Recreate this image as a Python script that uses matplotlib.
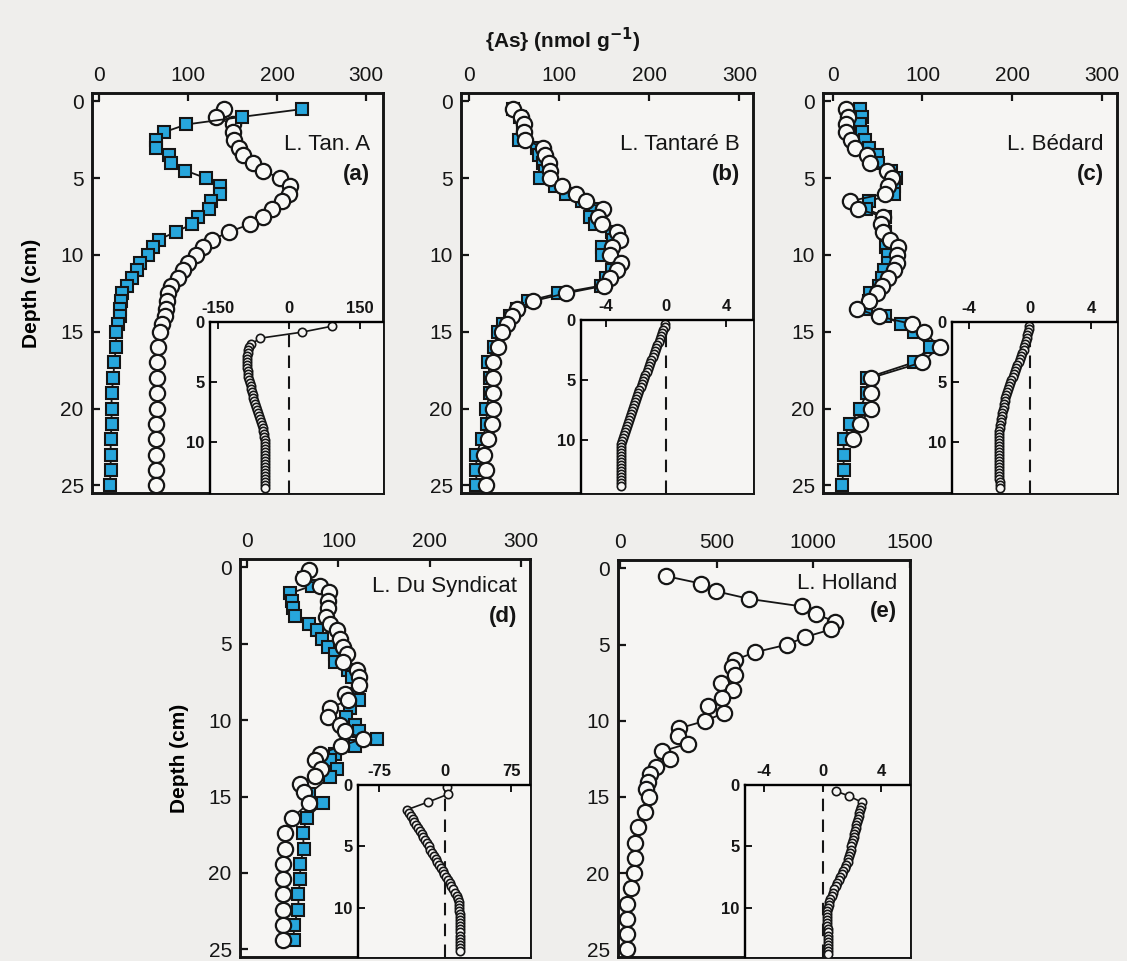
import matplotlib.pyplot as plt

plt.rcParams['font.family'] = ['Liberation Sans', 'DejaVu Sans']

# ---- porewater / solid-phase As profiles, depth in cm ----
# (a) L. Tantare A
depth_a_sq = [0.5, 1.0, 1.5, 2.0, 2.5, 3.0, 3.5, 4.0, 4.5, 5.0, 5.5, 6.0, 6.5, 7.0,
              7.5, 8.0, 8.5, 9.0, 9.5, 10.0, 10.5, 11.0, 11.5, 12.0, 12.5, 13.0,
              13.5, 14.0, 14.5, 15.0, 16.0, 17.0, 18.0, 19.0, 20.0, 21.0, 22.0,
              23.0, 24.0, 25.0]
as_a_sq = [228, 161, 98, 73, 64, 64, 79, 81, 97, 120, 136, 136, 126, 124, 111, 104,
           86, 67, 61, 55, 46, 43, 37, 31, 26, 25, 23, 23, 21, 19, 19, 17, 16, 14,
           14, 14, 13, 13, 13, 12]
depth_a_ci = [0.5, 1.0, 1.5, 2.0, 2.5, 3.0, 3.5, 4.0, 4.5, 5.0, 5.5, 6.0, 6.5, 7.0,
              7.5, 8.0, 8.5, 9.0, 9.5, 10.0, 10.5, 11.0, 11.5, 12.0, 12.5, 13.0,
              13.5, 14.0, 14.5, 15.0, 16.0, 17.0, 18.0, 19.0, 20.0, 21.0, 22.0,
              23.0, 24.0, 25.0]
as_a_ci = [140, 131, 150, 151, 152, 157, 162, 173, 184, 203, 215, 213, 205, 194,
           184, 169, 146, 127, 117, 109, 100, 94, 89, 81, 77, 76, 75, 74, 71, 68,
           66, 65, 65, 65, 65, 64, 64, 64, 64, 64]

# (b) L. Tantare B
depth_b = [0.5, 1.0, 1.5, 2.0, 2.5, 3.0, 3.5, 4.0, 4.5, 5.0, 5.5, 6.0, 6.5, 7.0,
           7.5, 8.0, 8.5, 9.0, 9.5, 10.0, 10.5, 11.0, 11.5, 12.0, 12.5, 13.0, 13.5,
           14.0, 14.5, 15.0, 16.0, 17.0, 18.0, 19.0, 20.0, 21.0, 22.0, 23.0, 24.0,
           25.0]
as_b_sq = [49, 57, 60, 60, 55, 75, 78, 82, 84, 79, 95, 108, 125, 140, 134, 140, 158,
           160, 147, 147, 160, 158, 152, 146, 99, 65, 53, 45, 38, 32, 28, 21, 23, 23,
           19, 20, 14, 8, 8, 8]
as_b_ci = [49, 58, 61, 61, 62, 82, 84, 89, 90, 90, 103, 119, 130, 149, 143, 147, 164,
           167, 158, 156, 169, 164, 156, 150, 107, 71, 53, 48, 42, 36, 32, 27, 27, 27,
           26, 25, 21, 17, 19, 19]

# (c) L. Bedard
depth_c_sq = [0.5, 1.0, 1.5, 2.0, 2.5, 3.0, 3.5, 4.0, 4.5, 5.0, 5.5, 6.0, 6.5, 7.0,
              7.5, 8.0, 8.5, 9.0, 9.5, 10.0, 10.5, 11.0, 11.5, 12.0, 12.5, 13.0,
              13.5, 14.0, 14.5, 15.0, 16.0, 17.0, 18.0, 19.0, 20.0, 21.0, 22.0,
              23.0, 24.0, 25.0]
as_c_sq = [30, 33, 30, 33, 36, 40, 49, 50, 65, 70, 68, 68, 40, 37, 58, 56, 58, 60, 59,
           61, 62, 57, 55, 52, 41, 40, 37, 58, 76, 90, 108, 90, 38, 38, 30, 19, 12, 12,
           12, 10]
depth_c_ci = [0.5, 1.0, 1.5, 2.0, 2.5, 3.0, 3.5, 4.0, 4.5, 5.0, 5.5, 6.0, 6.5, 7.0,
              7.5, 8.0, 8.5, 9.0, 9.5, 10.0, 10.5, 11.0, 11.5, 12.0, 12.5, 13.0,
              13.5, 14.0, 14.5, 15.0, 16.0, 17.0, 18.0, 19.0, 20.0, 21.0, 22.0]
as_c_ci = [15, 17, 15, 15, 20, 25, 38, 41, 60, 66, 62, 58, 19, 28, 56, 54, 56, 64, 73,
           71, 71, 68, 62, 55, 49, 40, 27, 52, 88, 102, 119, 99, 43, 43, 42, 30, 23]

# (d) L. Du Syndicat
depth_d_sq = [0.7, 1.2, 1.7, 2.2, 2.65, 3.2, 3.7, 4.1, 4.7, 5.2, 5.7, 6.2, 6.7, 7.2,
              7.7, 8.3, 8.7, 9.2, 9.8, 10.3, 10.7, 11.2, 11.7, 12.2, 12.6, 13.2,
              13.7, 14.8, 15.4, 16.4, 17.4, 18.4, 19.4, 20.4, 21.4, 22.4, 23.4, 24.4]
as_d_sq = [62, 71, 47, 49, 50, 52, 68, 76, 82, 88, 96, 96, 110, 115, 124, 120, 122,
           113, 108, 118, 122, 142, 118, 96, 91, 98, 91, 68, 83, 65, 61, 62, 58, 58,
           56, 56, 51, 51]
depth_d_ci = [0.2, 0.7, 1.2, 1.6, 2.2, 2.65, 3.25, 3.7, 4.1, 4.7, 5.2, 5.65, 6.2,
              6.7, 7.2, 7.7, 8.3, 8.7, 9.2, 9.8, 10.3, 10.7, 11.2, 11.7, 12.2, 12.6,
              13.2, 13.65, 14.2, 14.7, 15.4, 16.4, 17.4, 18.4, 19.4, 20.4, 21.4, 22.4,
              23.4, 24.4]
as_d_ci = [68, 61, 80, 90, 89, 89, 86, 91, 98, 102, 105, 109, 105, 120, 122, 123, 107,
           110, 91, 89, 102, 107, 127, 103, 80, 74, 81, 74, 58, 62, 68, 49, 41, 41, 39,
           39, 39, 39, 39, 39]

# (e) L. Holland
depth_e = [0.5, 1.0, 1.5, 2.0, 2.5, 3.0, 3.5, 4.0, 4.5, 5.0, 5.5, 6.0, 6.5, 7.0, 7.5,
           8.0, 8.5, 9.0, 9.5, 10.0, 10.5, 11.0, 11.5, 12.0, 12.5, 13.0, 13.5, 14.0,
           14.5, 15.0, 16.0, 17.0, 18.0, 19.0, 20.0, 21.0, 22.0, 23.0, 24.0, 25.0]
as_e = [236, 420, 497, 668, 942, 1014, 1113, 1093, 959, 865, 699, 596, 579, 593, 523,
        586, 526, 454, 536, 442, 305, 300, 351, 219, 257, 188, 158, 146, 134, 151, 128,
        94, 77, 77, 72, 55, 38, 38, 38, 34]

# ---- inset profiles (net rates, fine depth grid) ----
depth_in_a = [0.35, 0.85, 1.35, 1.85, 2.1, 2.35, 2.6, 2.85, 3.1, 3.35, 3.6, 3.85, 4.1,
              4.35, 4.6, 4.85, 5.1, 5.35, 5.6, 5.85, 6.1, 6.35, 6.6, 6.85, 7.1, 7.35,
              7.6, 7.85, 8.1, 8.35, 8.6, 8.85, 9.1, 9.35, 9.6, 9.85, 10.1, 10.35, 10.6,
              10.85, 11.1, 11.35, 11.6, 11.85, 12.1, 12.35, 12.6, 12.85, 13.1, 13.35,
              13.6, 13.85]
rate_in_a = [91, 27, -61, -80, -84, -86, -87, -88, -88, -88, -88, -88, -87, -87, -86,
             -85, -83, -81, -80, -78, -76, -75, -73, -71, -69, -67, -65, -63, -61, -59,
             -57, -55, -54, -53, -52, -51, -50, -50, -50, -50, -50, -50, -50, -50, -50,
             -50, -50, -50, -50, -50, -50, -50]
depth_in_b = [0.3, 0.55, 0.8, 1.05, 1.3, 1.55, 1.8, 2.05, 2.3, 2.55, 2.8, 3.05, 3.3,
              3.55, 3.8, 4.05, 4.3, 4.55, 4.8, 5.05, 5.3, 5.55, 5.8, 6.05, 6.3, 6.55,
              6.8, 7.05, 7.3, 7.55, 7.8, 8.05, 8.3, 8.55, 8.8, 9.05, 9.3, 9.55, 9.8,
              10.05, 10.3, 10.55, 10.8, 11.05, 11.3, 11.55, 11.8, 12.05, 12.3, 12.55,
              12.8, 13.05, 13.3, 13.55, 13.8]
rate_in_b = [-0.05, -0.1, -0.18, -0.26, -0.34, -0.42, -0.5, -0.58, -0.66, -0.74,
             -0.82, -0.9, -0.98, -1.06, -1.14, -1.22, -1.3, -1.38, -1.46, -1.54, -1.62,
             -1.7, -1.78, -1.85, -1.92, -1.99, -2.06, -2.13, -2.2, -2.27, -2.34, -2.41,
             -2.48, -2.55, -2.62, -2.69, -2.76, -2.83, -2.9, -2.95, -2.98, -3.0, -3.0,
             -3.0, -3.0, -3.0, -3.0, -3.0, -3.0, -3.0, -3.0, -3.0, -3.0, -3.0, -3.0]
depth_in_c = depth_in_b
rate_in_c = [-0.05, -0.08, -0.12, -0.16, -0.2, -0.25, -0.3, -0.36, -0.42, -0.5, -0.58,
             -0.66, -0.74, -0.82, -0.9, -0.98, -1.06, -1.14, -1.22, -1.3, -1.36, -1.42,
             -1.48, -1.54, -1.6, -1.64, -1.68, -1.72, -1.76, -1.8, -1.84, -1.88, -1.92,
             -1.95, -1.98, -2.0, -2.02, -2.04, -2.05, -2.05, -2.05, -2.05, -2.05, -2.05,
             -2.05, -2.05, -2.05, -2.05, -2.0, -2.0, -2.0, -2.0, -1.95, -1.95, -1.95]
depth_in_d = [0.2, 0.75, 1.4, 2.0, 2.25, 2.5, 2.75, 3.0, 3.25, 3.5, 3.75, 4.0, 4.25,
              4.5, 4.75, 5.0, 5.25, 5.5, 5.75, 6.0, 6.25, 6.5, 6.75, 7.0, 7.25, 7.5,
              7.75, 8.0, 8.25, 8.5, 8.75, 9.0, 9.25, 9.5, 9.75, 10.0, 10.25, 10.5,
              10.75, 11.0, 11.25, 11.5, 11.75, 12.0, 12.25, 12.5, 12.75, 13.0, 13.25,
              13.5]
rate_in_d = [2, 3, -20, -43, -41, -39, -37, -35, -33, -31, -29, -27, -25, -23, -21, -19,
             -17, -15, -13, -11, -9, -7, -5, -3, -1, 1, 3, 5, 7, 9, 11, 13, 14, 15, 16,
             16, 16, 17, 17, 17, 17, 17, 17, 17, 17, 17, 17, 17, 17, 17]
depth_in_e = [0.5, 0.9, 1.4, 1.75, 2.0, 2.25, 2.5, 2.75, 3.0, 3.25, 3.5, 3.75, 4.0,
              4.25, 4.5, 4.75, 5.0, 5.25, 5.5, 5.75, 6.0, 6.25, 6.5, 6.75, 7.0, 7.25,
              7.5, 7.75, 8.0, 8.25, 8.5, 8.75, 9.0, 9.25, 9.5, 9.75, 10.0, 10.25, 10.5,
              10.75, 11.0, 11.25, 11.5, 11.75, 12.0, 12.25, 12.5, 12.75, 13.0, 13.25,
              13.5, 13.75]
rate_in_e = [0.9, 1.8, 2.65, 2.6, 2.55, 2.5, 2.45, 2.4, 2.35, 2.3, 2.25, 2.2, 2.15,
             2.1, 2.05, 2.0, 1.95, 1.9, 1.85, 1.8, 1.75, 1.7, 1.6, 1.5, 1.4, 1.3, 1.2,
             1.1, 1.0, 0.9, 0.8, 0.7, 0.6, 0.5, 0.45, 0.4, 0.35, 0.3, 0.3, 0.3, 0.3,
             0.3, 0.3, 0.35, 0.35, 0.35, 0.35, 0.35, 0.35, 0.35, 0.35, 0.35]

W, H = 1127, 961
BLUE = '#27a6dc'
PAPER = '#efeeec'
FACE = '#f6f5f3'
INK = '#151515'


def box(x0, y0, x1, y1):
    # pixel box -> figure fraction [left, bottom, width, height]
    return [x0 / W, 1 - y1 / H, (x1 - x0) / W, (y1 - y0) / H]


def main_panel(rect, xlim, xticks, name, tag, name_y, tag_y):
    ax = fig.add_axes(box(*rect))
    ax.set_facecolor(FACE)
    ax.set_xlim(*xlim)
    ax.set_ylim(25.5, -0.55)
    ax.set_xticks(xticks)
    ax.set_yticks([0, 5, 10, 15, 20, 25])
    ax.xaxis.tick_top()
    ax.tick_params(direction='in', length=6, width=1.6, labelsize=15, pad=6,
                   top=True, bottom=False, left=True, right=False, colors=INK)
    for s in ax.spines.values():
        s.set_linewidth(2.1)
        s.set_color(INK)
    ax.text(0.955, name_y, name, transform=ax.transAxes, ha='right', va='center',
            fontsize=16, color=INK)
    ax.text(0.955, tag_y, tag, transform=ax.transAxes, ha='right', va='center',
            fontsize=16, fontweight='bold', color=INK)
    return ax


def inset(rect, xlim, xticks, ylim_bot, depth, rate):
    ax = fig.add_axes(box(*rect))
    ax.set_facecolor(FACE)
    ax.set_xlim(*xlim)
    ax.set_ylim(ylim_bot, 0)
    ax.set_xticks(xticks)
    ax.set_xticklabels([str(t) for t in xticks])
    ax.set_yticks([0, 5, 10])
    ax.xaxis.tick_top()
    ax.tick_params(direction='in', length=5, width=1.4, labelsize=12, pad=4,
                   top=True, bottom=False, left=True, right=False, colors=INK)
    for lab in ax.get_xticklabels() + ax.get_yticklabels():
        lab.set_fontweight('bold')
    ax.spines['right'].set_visible(False)
    ax.spines['bottom'].set_visible(False)
    ax.spines['top'].set_linewidth(1.7)
    ax.spines['left'].set_linewidth(1.7)
    ax.axvline(0, color=INK, lw=1.5, ls=(0, (6, 4)))
    ax.plot(rate, depth, '-o', color=INK, lw=1.2, ms=6, mfc=FACE,
            mec=INK, mew=1.2)
    return ax


fig = plt.figure(figsize=(W / 100, H / 100), dpi=100, facecolor=PAPER)

sq = dict(marker='s', ms=9, mfc=BLUE, mec=INK, mew=1.5, color=INK, lw=1.3)
ci = dict(marker='o', ms=11, mfc='#f8f8f6', mec=INK, mew=1.6, color=INK, lw=1.3)

ax_a = main_panel((92, 93, 383, 493), (-8, 319), [0, 100, 200, 300], 'L. Tan. A', '(a)',
                  0.87, 0.795)
ax_a.plot(as_a_ci, depth_a_ci, **ci)
ax_a.plot(as_a_sq, depth_a_sq, **sq)
ax_a.set_ylabel('Depth (cm)', fontsize=15, fontweight='bold', labelpad=14)

ax_b = main_panel((461, 93, 753, 493), (-9, 315), [0, 100, 200, 300], 'L. Tantaré B',
                  '(b)', 0.87, 0.795)
ax_b.plot(as_b_sq, depth_b, **sq)
ax_b.plot(as_b_ci, depth_b, **ci)

ax_c = main_panel((823, 93, 1117, 493), (-11, 317), [0, 100, 200, 300], 'L. Bédard',
                  '(c)', 0.87, 0.795)
ax_c.plot(as_c_sq, depth_c_sq, **sq)
ax_c.plot(as_c_ci, depth_c_ci, **ci)

ax_d = main_panel((240, 559, 530, 957), (-8, 310), [0, 100, 200, 300],
                  'L. Du Syndicat', '(d)', 0.93, 0.855)
ax_d.plot(as_d_sq, depth_d_sq, **sq)
ax_d.plot(as_d_ci, depth_d_ci, **ci)
ax_d.set_ylabel('Depth (cm)', fontsize=15, fontweight='bold', labelpad=14)

ax_e = main_panel((618, 560, 910, 957), (-10, 1490), [0, 500, 1000, 1500],
                  'L. Holland', '(e)', 0.94, 0.87)
ax_e.plot(as_e, depth_e, **ci)

inset((210, 322, 383, 493), (-167, 199), [-150, 0, 150], 14.25, depth_in_a, rate_in_a)
inset((581, 320, 753, 493), (-5.67, 5.8), [-4, 0, 4], 14.4, depth_in_b, rate_in_b)
inset((952, 322, 1117, 493), (-5.1, 5.7), [-4, 0, 4], 14.25, depth_in_c, rate_in_c)
inset((358, 785, 530, 957), (-99, 96), [-75, 0, 75], 14.0, depth_in_d, rate_in_d)
inset((745, 785, 910, 957), (-5.3, 5.95), [-4, 0, 4], 14.0, depth_in_e, rate_in_e)

fig.text(563 / W, 1 - 40 / H, '{As} (nmol g$^{\\mathbf{-1}}$)', ha='center',
         va='center', fontsize=15, fontweight='bold', color=INK)

fig.savefig('out.png', dpi=100, facecolor=PAPER)
